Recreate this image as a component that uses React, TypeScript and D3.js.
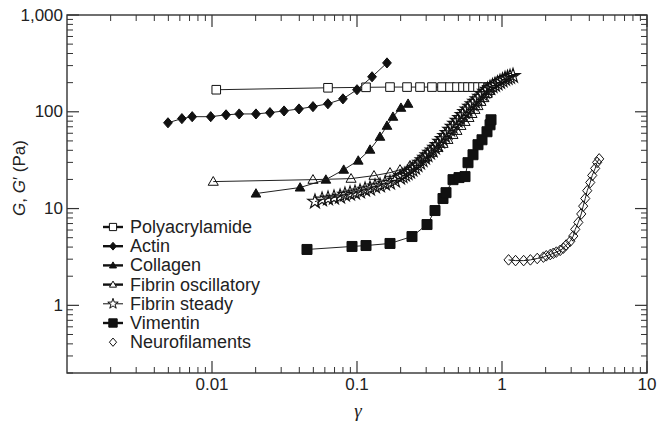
import * as d3 from "d3";

const W = 660;
const H = 426;
const X0 = 67;
const X1 = 647;
const Y0 = 373;
const Y1 = 15;

// strain gamma / modulus G (Pa)
const polyX = [0.0107, 0.0631, 0.1154, 0.1689, 0.2213, 0.272, 0.329, 0.3857, 0.4379, 0.4894, 0.5383, 0.5828, 0.631, 0.6832, 0.7396, 0.8007, 0.8531];
const polyY = [169, 177, 179, 180, 180, 180, 180, 180, 180, 180, 180, 180, 180, 180, 180, 180, 180];

const actinX = [0.00497, 0.0062, 0.0073, 0.0098, 0.0125, 0.0154, 0.0201, 0.0251, 0.0314, 0.0398, 0.0497, 0.063, 0.08, 0.1, 0.127, 0.161];
const actinY = [77, 85, 89, 89, 93, 95, 95, 98, 102, 107, 113, 121, 136, 169, 230, 320];

const collagenX = [0.0201, 0.0405, 0.061, 0.081, 0.102, 0.123, 0.144, 0.161, 0.177, 0.201, 0.225];
const collagenY = [14.3, 16.5, 19.9, 25.2, 31.3, 40.6, 55.2, 71.7, 88.8, 110, 121];

const fibOscX = [0.0102, 0.0497, 0.091, 0.131, 0.169, 0.198, 0.232, 0.264, 0.294, 0.329, 0.362, 0.392, 0.424, 0.459, 0.489, 0.521, 0.556, 0.592, 0.621, 0.651, 0.683, 0.716, 0.751, 0.789, 0.827];
const fibOscY = [19.0, 19.9, 20.4, 21.9, 23.5, 25.2, 27.8, 30.5, 33.6, 37.8, 42.5, 46.8, 51.4, 57.9, 63.7, 71.7, 78.9, 86.7, 95.3, 105, 115, 127, 139, 153, 165];

const fibSteadyX = [
  0.0513, 0.0574, 0.0631, 0.0694, 0.0764, 0.0826, 0.0895, 0.0969, 0.1049, 0.1136, 0.1229, 0.1331, 0.1441, 0.156, 0.1689, 0.1829,
  0.198, 0.206, 0.2143, 0.223, 0.232, 0.241, 0.2512, 0.261, 0.272, 0.283, 0.2944, 0.306, 0.3187, 0.332, 0.3451, 0.359, 0.3736,
  0.389, 0.4045, 0.421, 0.4379, 0.456, 0.4741, 0.493, 0.5133, 0.534, 0.5557, 0.578, 0.6016, 0.626, 0.6513, 0.678, 0.7052, 0.734,
  0.7634, 0.795, 0.8266, 0.86, 0.8948, 0.931, 0.9687, 1.008, 1.049, 1.092, 1.136, 1.191,
];
const fibSteadyY = [
  11.8, 12.4, 12.7, 13.0, 13.3, 13.9, 14.3, 14.6, 15.0, 15.7, 16.1, 16.9, 17.3, 18.1, 18.5, 19.4,
  20.9, 21.6, 22.4, 23.2, 24.1, 25.2, 26.5, 28.1, 29.8, 31.6, 33.6, 35.6, 37.8, 40.0, 42.5, 45.6, 49.1,
  52.6, 56.5, 60.6, 65.2, 70.0, 75.2, 80.8, 86.7, 93.0, 100, 106, 113, 120, 127, 135, 143, 152,
  161, 169, 177, 184, 190, 197, 204, 211, 219, 224, 229, 235,
];

const vimX = [0.0452, 0.0924, 0.1154, 0.1689, 0.2395, 0.304, 0.3451, 0.3918, 0.411, 0.4594, 0.5051, 0.5557, 0.5828, 0.631, 0.683, 0.728, 0.788, 0.827, 0.84];
const vimY = [3.78, 4.06, 4.15, 4.36, 5.14, 6.84, 9.54, 12.7, 14.6, 19.9, 20.9, 21.4, 29.8, 36.0, 45.7, 51.4, 62.2, 73.4, 82.7];

const neuroX = [1.11, 1.24, 1.41, 1.57, 1.75, 1.93, 2.02, 2.15, 2.26, 2.37, 2.52, 2.65, 2.77, 2.96, 3.1, 3.2, 3.36, 3.52, 3.63, 3.75, 3.87, 4.06, 4.19, 4.39, 4.53, 4.68];
const neuroY = [2.95, 2.9, 2.9, 2.95, 3.05, 3.15, 3.25, 3.35, 3.45, 3.55, 3.7, 3.9, 4.2, 4.6, 5.2, 6.1, 7.2, 8.8, 10.6, 12.7, 15.3, 18.6, 22.0, 26.0, 30.0, 32.6];

const legendLabels = ["Polyacrylamide", "Actin", "Collagen", "Fibrin oscillatory", "Fibrin steady", "Vimentin", "Neurofilaments"];
const xTickLabels = ["0.01", "0.1", "1", "10"];
const xTickValues = [0.01, 0.1, 1, 10];
const yTickLabels = ["1", "10", "100", "1,000"];
const yTickValues = [1, 10, 100, 1000];

type Kind = "square" | "diamond" | "triangle" | "star";

function markerPath(kind: Kind, r: number) {
  if (kind === "square") return `M${-r},${-r}H${r}V${r}H${-r}Z`;
  if (kind === "diamond") return `M0,${-r * 1.15}L${r},0L0,${r * 1.15}L${-r},0Z`;
  if (kind === "triangle") return `M0,${-r * 1.1}L${r * 1.1},${r * 0.8}L${-r * 1.1},${r * 0.8}Z`;
  return d3.symbol(d3.symbolStar, r * r * 2.6)() as string;
}

const series = [
  { xs: polyX, ys: polyY, kind: "square" as Kind, r: 4.3, fill: "#fff", sw: 1 },
  { xs: actinX, ys: actinY, kind: "diamond" as Kind, r: 4.4, fill: "#111", sw: 1 },
  { xs: collagenX, ys: collagenY, kind: "triangle" as Kind, r: 4.4, fill: "#111", sw: 1 },
  { xs: fibSteadyX, ys: fibSteadyY, kind: "star" as Kind, r: 5, fill: "none", sw: 1.1 },
  { xs: fibOscX, ys: fibOscY, kind: "triangle" as Kind, r: 4.6, fill: "none", sw: 1 },
  { xs: vimX, ys: vimY, kind: "square" as Kind, r: 5, fill: "#111", sw: 1 },
  { xs: neuroX, ys: neuroY, kind: "diamond" as Kind, r: 4.6, fill: "none", sw: 1 },
];

const legendSym = [
  { kind: "square" as Kind, r: 3.6, fill: "#fff", line: true },
  { kind: "diamond" as Kind, r: 3.4, fill: "#111", line: true },
  { kind: "triangle" as Kind, r: 3.2, fill: "#111", line: true },
  { kind: "triangle" as Kind, r: 3.2, fill: "#fff", line: true },
  { kind: "star" as Kind, r: 3.6, fill: "#fff", line: true },
  { kind: "square" as Kind, r: 4.2, fill: "#111", line: true },
  { kind: "diamond" as Kind, r: 3.6, fill: "#fff", line: false },
];

export default function App() {
  const x = d3.scaleLog().domain([0.001, 10]).range([X0, X1]);
  const y = d3.scaleLog().domain([0.2, 1000]).range([Y0, Y1]);

  const xMinor: number[] = [];
  for (const dec of [0.001, 0.01, 0.1, 1]) for (let k = 2; k <= 9; k++) xMinor.push(dec * k);
  const yMinor: number[] = [];
  for (const dec of [0.1, 1, 10, 100]) for (let k = 2; k <= 9; k++) if (dec * k >= 0.2) yMinor.push(dec * k);

  const lineGen = d3
    .line<[number, number]>()
    .x((d) => x(d[0]))
    .y((d) => y(d[1]));

  const font = "'Liberation Sans', Arial, sans-serif";
  const axisColor = "#333";

  return (
    <svg width={W} height={H} style={{ position: "absolute", left: 0, top: 0, background: "#fff" }}>
      {/* frame */}
      <rect x={X0} y={Y1} width={X1 - X0} height={Y0 - Y1} fill="none" stroke={axisColor} strokeWidth={1.4} />

      {/* x ticks, bottom and top, pointing inward */}
      {xTickValues.map((v) => (
        <g key={"xM" + v} stroke={axisColor} strokeWidth={1.2}>
          <line x1={x(v)} x2={x(v)} y1={Y0} y2={Y0 - 12} />
          <line x1={x(v)} x2={x(v)} y1={Y1} y2={Y1 + 12} />
        </g>
      ))}
      {xMinor.map((v) => (
        <g key={"xm" + v} stroke={axisColor} strokeWidth={1}>
          <line x1={x(v)} x2={x(v)} y1={Y0} y2={Y0 - 6} />
          <line x1={x(v)} x2={x(v)} y1={Y1} y2={Y1 + 6} />
        </g>
      ))}
      {yTickValues.map((v) => (
        <g key={"yM" + v} stroke={axisColor} strokeWidth={1.2}>
          <line x1={X0} x2={X0 + 12} y1={y(v)} y2={y(v)} />
          <line x1={X1} x2={X1 - 12} y1={y(v)} y2={y(v)} />
        </g>
      ))}
      {yMinor.map((v) => (
        <g key={"ym" + v} stroke={axisColor} strokeWidth={1}>
          <line x1={X0} x2={X0 + 6} y1={y(v)} y2={y(v)} />
          <line x1={X1} x2={X1 - 6} y1={y(v)} y2={y(v)} />
        </g>
      ))}

      {/* tick labels */}
      {xTickValues.map((v, i) => (
        <text key={"xl" + v} x={x(v)} y={384} textAnchor="middle" dominantBaseline="central" fontFamily={font} fontSize={17} fill="#222">
          {xTickLabels[i]}
        </text>
      ))}
      {yTickValues.map((v, i) => (
        <text key={"yl" + v} x={63} y={y(v)} textAnchor="end" dominantBaseline="central" fontFamily={font} fontSize={17} fill="#222">
          {yTickLabels[i]}
        </text>
      ))}

      {/* axis titles */}
      <text x={358} y={410} textAnchor="middle" dominantBaseline="central" fontFamily="'Liberation Serif', serif" fontStyle="italic" fontSize={19} fill="#222">
        γ
      </text>
      <text transform="translate(19,178) rotate(-90)" textAnchor="middle" dominantBaseline="central" fontFamily={font} fontSize={17} fill="#222">
        <tspan fontStyle="italic">G</tspan>, <tspan fontStyle="italic">G</tspan>′ (Pa)
      </text>

      {/* data */}
      {series.map((s, si) => {
        const pts = s.xs.map((v, i) => [v, s.ys[i]] as [number, number]);
        const mp = markerPath(s.kind, s.r);
        return (
          <g key={"s" + si}>
            <path d={lineGen(pts) as string} fill="none" stroke="#222" strokeWidth={1} />
            {pts.map((p, i) => (
              <path key={i} d={mp} transform={`translate(${x(p[0])},${y(p[1])})`} fill={s.fill} stroke="#111" strokeWidth={s.sw} />
            ))}
          </g>
        );
      })}

      {/* legend */}
      {legendLabels.map((lab, i) => {
        const ly = 227 + i * 19.2;
        const s = legendSym[i];
        return (
          <g key={"lg" + i}>
            {s.line && <line x1={103} x2={123} y1={ly} y2={ly} stroke="#111" strokeWidth={s.kind === "star" ? 1 : 2.4} />}
            <path d={markerPath(s.kind, s.r)} transform={`translate(113,${ly})`} fill={s.fill} stroke="#111" strokeWidth={1} />
            <text x={130} y={ly} dominantBaseline="central" fontFamily={font} fontSize={18} fill="#222">
              {lab}
            </text>
          </g>
        );
      })}
    </svg>
  );
}
